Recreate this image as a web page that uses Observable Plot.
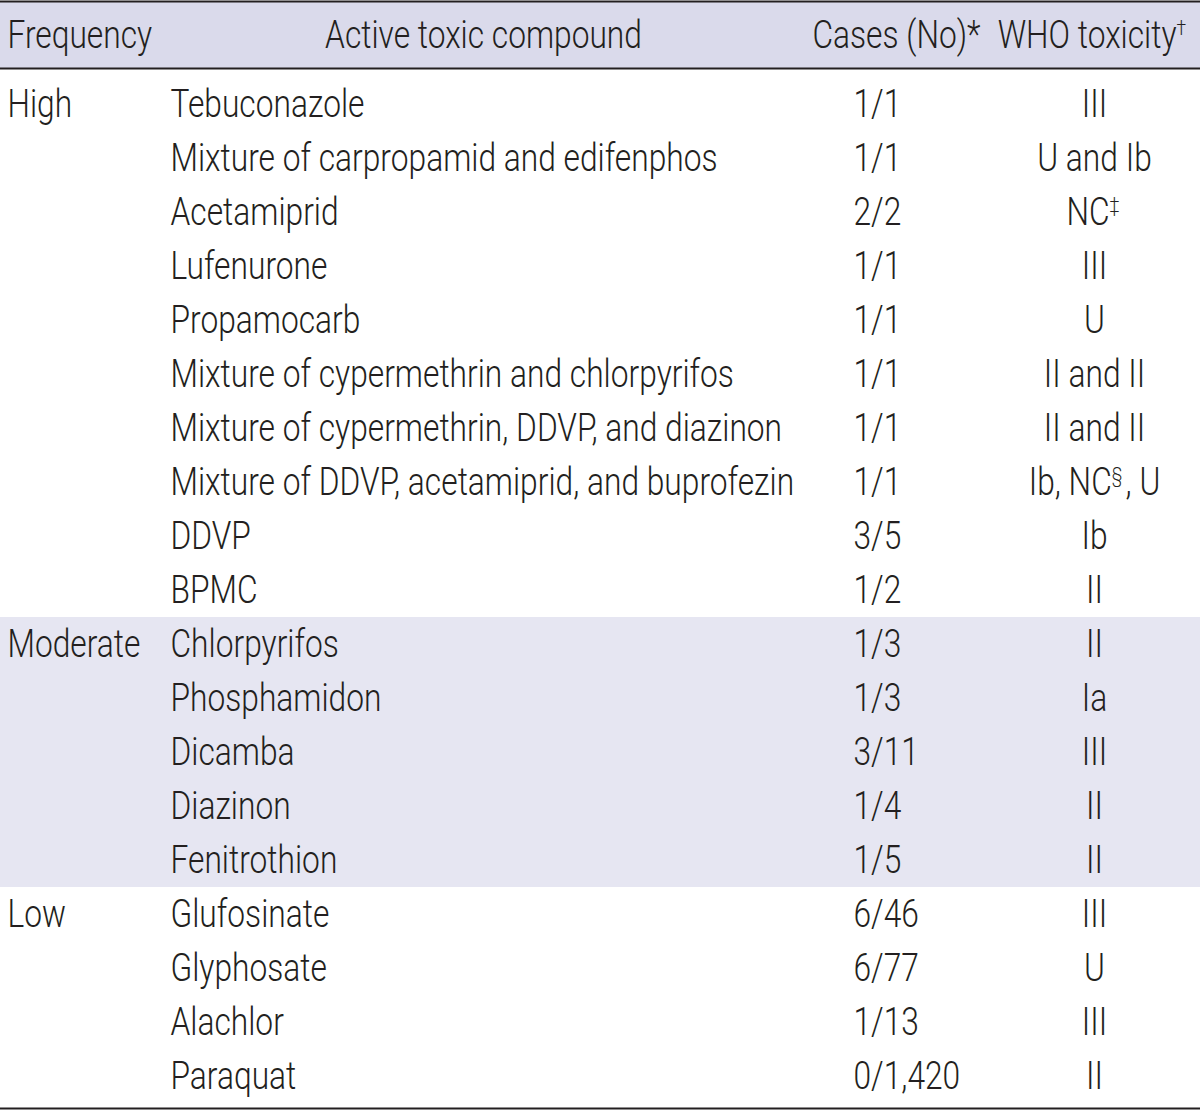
<!DOCTYPE html>
<html><head><meta charset="utf-8">
<script src="https://cdn.jsdelivr.net/npm/d3@7"></script>
<script src="https://cdn.jsdelivr.net/npm/@observablehq/plot@0.6"></script>
<style>body{margin:0;background:#fff}</style>
</head><body><div id="chart"></div>
<script>
const headers = ["Frequency", "Active toxic compound", "Cases (No)*", "WHO toxicity†"];
const rowGroup = ["High","High","High","High","High","High","High","High","High","High",
  "Moderate","Moderate","Moderate","Moderate","Moderate","Low","Low","Low","Low"];
const compounds = ["Tebuconazole","Mixture of carpropamid and edifenphos","Acetamiprid","Lufenurone",
  "Propamocarb","Mixture of cypermethrin and chlorpyrifos","Mixture of cypermethrin, DDVP, and diazinon",
  "Mixture of DDVP, acetamiprid, and buprofezin","DDVP","BPMC","Chlorpyrifos","Phosphamidon",
  "Dicamba","Diazinon","Fenitrothion","Glufosinate","Glyphosate","Alachlor","Paraquat"];
const cases = ["1/1","1/1","2/2","1/1","1/1","1/1","1/1","1/1","3/5","1/2","1/3","1/3","3/11","1/4","1/5",
  "6/46","6/77","1/13","0/1,420"];
const toxicity = ["III","U and Ib","NC‡","III","U","II and II","II and II","Ib, NC§, U","Ib","II",
  "II","Ia","III","II","II","III","U","III","II"];

const rows = compounds.map((c, i) => ({
  i, compound: c, cases: cases[i], tox: toxicity[i], group: rowGroup[i],
  label: (i === 0 || rowGroup[i] !== rowGroup[i-1]) ? rowGroup[i] : ""
}));
const shaded = ["Moderate"].map(g => {
  const idx = rows.filter(r => r.group === g).map(r => r.i);
  return {g, y1: d3.min(idx) - 0.5, y2: d3.max(idx) + 0.5};
});

// layout constants
const W = 1200, H = 1110, rowH = 54, firstRowY = 104;
const HEAD_TOP = (1 - firstRowY) / rowH, HEAD_BOT = (68 - firstRowY) / rowH, BOTTOM = (1108 - firstRowY) / rowH;
const HEAD_Y = (35 - firstRowY) / rowH;
const colX = {freq: 7, comp: 170, cases: 853, tox: 1094};
const ink = "#231f20";
const font = "Roboto, Liberation Sans, sans-serif";
const fs = 38;
const squeeze = 0.835;

const headerRows = headers.map((h, k) => ({h, k}));
const txt = {fontSize: fs, fontFamily: font, fontWeight: 300, fill: ink};

const chart = Plot.plot({
  width: W, height: H,
  marginTop: 0, marginBottom: 0, marginLeft: 0, marginRight: 0,
  x: {type: "linear", domain: [0, W], range: [0, W], axis: null},
  y: {type: "linear", domain: [-firstRowY / rowH, (H - firstRowY) / rowH], range: [0, H], axis: null},
  marks: [
    Plot.rect([0], {x1: 0, x2: W, y1: HEAD_TOP, y2: HEAD_BOT, fill: "#dadaeb"}),
    Plot.rect(shaded, {x1: 0, x2: W, y1: "y1", y2: "y2", fill: "#e6e6f2"}),
    Plot.ruleY([HEAD_TOP, HEAD_BOT, BOTTOM], {stroke: ink, strokeWidth: 2}),
    Plot.text(headerRows.filter(d => d.k === 0), {x: 7, y: HEAD_Y, text: "h", textAnchor: "start", ...txt}),
    Plot.text(headerRows.filter(d => d.k === 1), {x: 483, y: HEAD_Y, text: "h", textAnchor: "middle", ...txt}),
    Plot.text(headerRows.filter(d => d.k === 2), {x: 896, y: HEAD_Y, text: "h", textAnchor: "middle", ...txt}),
    Plot.text(headerRows.filter(d => d.k === 3), {x: 1093, y: HEAD_Y, text: "h", textAnchor: "middle", ...txt}),
    Plot.text(rows.filter(r => r.label), {x: colX.freq, y: "i", text: "label", textAnchor: "start", ...txt}),
    Plot.text(rows, {x: colX.comp, y: "i", text: "compound", textAnchor: "start", ...txt}),
    Plot.text(rows, {x: colX.cases, y: "i", text: "cases", textAnchor: "start", ...txt}),
    Plot.text(rows, {x: colX.tox, y: "i", text: "tox", textAnchor: "middle", ...txt})
  ]
});

// footnote markers as superscripts, then condense every text horizontally
d3.select(chart).selectAll("text").each(function() {
  const t = this.textContent;
  const sel = d3.select(this);
  if (/[†‡§]/.test(t)) {
    sel.text(null);
    for (const part of t.split(/([†‡§])/)) {
      if (!part) continue;
      if (/[†‡§]/.test(part)) {
        sel.append("tspan").attr("font-size", "55%").attr("dy", -13).text(part);
        sel.append("tspan").attr("dy", 13).text("\u200A");
      } else {
        sel.append("tspan").text(part);
      }
    }
  }
  const tr = this.getAttribute("transform") || "";
  this.setAttribute("transform", `${tr} scale(${squeeze},1)`);
});

document.getElementById("chart").appendChild(chart);
</script>
</body></html>
